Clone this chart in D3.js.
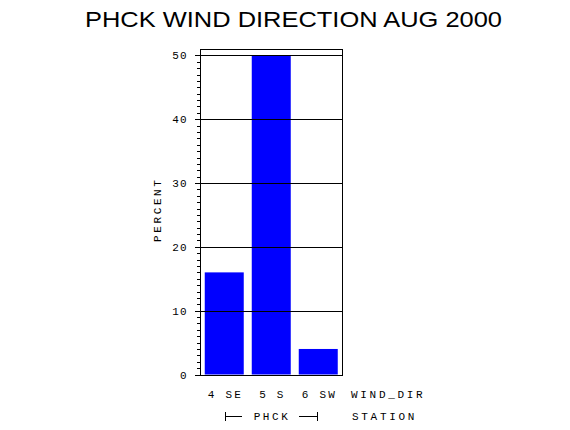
<!DOCTYPE html>
<html>
<head>
<meta charset="utf-8">
<script src="https://cdn.jsdelivr.net/npm/d3@7"></script>
<style>
  html, body { margin: 0; padding: 0; background: #fff; }
  svg { display: block; }
  text { fill: #000; }
</style>
</head>
<body>
<svg id="chart" width="570" height="430"></svg>
<script>
const titleText = "PHCK WIND DIRECTION AUG 2000";
const categories = ["4 SE", "5 S", "6 SW"];
const values = [16, 50, 4];
const yTicks = [0, 10, 20, 30, 40, 50];
const yMinorTicks = d3.range(0, 51, 1);
const groupLabel = "PHCK";
const xAxisName = "WIND_DIR";
const groupAxisName = "STATION";
const yAxisName = "PERCENT";

const svg = d3.select("#chart");
const pLeft = 200, pRight = 342, pTop = 49, pBottom = 374.5;

const y = d3.scaleLinear().domain([0, 51]).range([pBottom, pTop]);
const x = d3.scaleBand().domain(categories).range([pLeft + 0.5, pRight])
  .paddingInner(8 / 47).paddingOuter(0.0904);

const mono = "'Liberation Mono', 'DejaVu Sans Mono', monospace";
const fs = "11px";

// title
svg.append("text")
  .attr("x", 85).attr("y", 27)
  .attr("textLength", 417).attr("lengthAdjust", "spacingAndGlyphs")
  .style("font-family", "'Liberation Sans', Arial, sans-serif")
  .style("font-size", "22px")
  .text(titleText);

// bars
svg.append("g").selectAll("rect").data(values).join("rect")
  .attr("x", (d, i) => x(categories[i]))
  .attr("width", x.bandwidth())
  .attr("y", d => y(d))
  .attr("height", d => y(0) - y(d))
  .attr("fill", "#0000ff");

// gridlines at major ticks
svg.append("g").selectAll("line").data(yTicks.filter(t => t > 0)).join("line")
  .attr("x1", pLeft).attr("x2", pRight)
  .attr("y1", d => Math.round(y(d)) + 0.5).attr("y2", d => Math.round(y(d)) + 0.5)
  .attr("stroke", "#000").attr("stroke-width", 1).attr("shape-rendering", "crispEdges");

// frame
const frame = svg.append("g").attr("stroke", "#000").attr("stroke-width", 1).attr("shape-rendering", "crispEdges").attr("fill", "none");
frame.append("line").attr("x1", pLeft).attr("x2", pRight + 1).attr("y1", pTop + 0.5).attr("y2", pTop + 0.5);
frame.append("line").attr("x1", pRight + 0.5).attr("x2", pRight + 0.5).attr("y1", pTop).attr("y2", pBottom + 1);
frame.append("line").attr("x1", pLeft).attr("x2", pRight + 1).attr("y1", Math.round(pBottom) + 0.5).attr("y2", Math.round(pBottom) + 0.5);

// y axis with minor ticks
const axisMinor = d3.axisLeft(y).tickValues(yMinorTicks).tickSize(4).tickFormat("");
const gMinor = svg.append("g").attr("transform", `translate(${pLeft + 0.5},0)`).call(axisMinor);
gMinor.select(".domain").remove();
const axisMajor = d3.axisLeft(y).tickValues(yTicks).tickSize(6).tickPadding(7).tickFormat(d3.format("d"));
const gMajor = svg.append("g").attr("transform", `translate(${pLeft + 0.5},0)`).call(axisMajor);
gMajor.select(".domain").attr("d", `M0,${pTop}V${pBottom + 1}`);
svg.selectAll(".tick line").attr("shape-rendering", "crispEdges").attr("stroke", "#000");
gMajor.selectAll(".tick text")
  .style("font-family", mono).style("font-size", fs).style("letter-spacing", "1px")
  .attr("fill", "#000");

// y axis title
svg.append("text")
  .attr("transform", `translate(161,211) rotate(-90)`)
  .attr("text-anchor", "middle")
  .attr("dx", 1.3)
  .style("font-family", mono).style("font-size", fs).style("letter-spacing", "2.6px")
  .text(yAxisName);

// category labels
svg.append("g").selectAll("text").data(categories).join("text")
  .attr("x", d => x(d) + x.bandwidth() / 2)
  .attr("dx", 1.2)
  .attr("y", 398)
  .attr("text-anchor", "middle")
  .style("font-family", mono).style("font-size", fs).style("letter-spacing", "2.2px")
  .text(d => d);

svg.append("text")
  .attr("x", 351).attr("y", 398)
  .style("font-family", mono).style("font-size", fs).style("letter-spacing", "2.7px")
  .text(xAxisName);

svg.append("text")
  .attr("x", 352).attr("y", 420)
  .style("font-family", mono).style("font-size", fs).style("letter-spacing", "2.7px")
  .text(groupAxisName);

// group bracket
const bx0 = x(categories[0]) + 20, bx1 = x(categories[categories.length - 1]) + 18;
const br = svg.append("g").attr("stroke", "#000").attr("stroke-width", 1).attr("shape-rendering", "crispEdges");
br.append("line").attr("x1", bx0 + 0.5).attr("x2", bx0 + 0.5).attr("y1", 412).attr("y2", 421);
br.append("line").attr("x1", bx0).attr("x2", bx0 + 17).attr("y1", 416.5).attr("y2", 416.5);
br.append("line").attr("x1", bx1 + 0.5).attr("x2", bx1 + 0.5).attr("y1", 412).attr("y2", 421);
br.append("line").attr("x1", bx1 - 18).attr("x2", bx1).attr("y1", 416.5).attr("y2", 416.5);
svg.append("text")
  .attr("x", (bx0 + bx1) / 2).attr("dx", 1.3).attr("y", 420)
  .attr("text-anchor", "middle")
  .style("font-family", mono).style("font-size", fs).style("letter-spacing", "2.6px")
  .text(groupLabel);
</script>
</body>
</html>
